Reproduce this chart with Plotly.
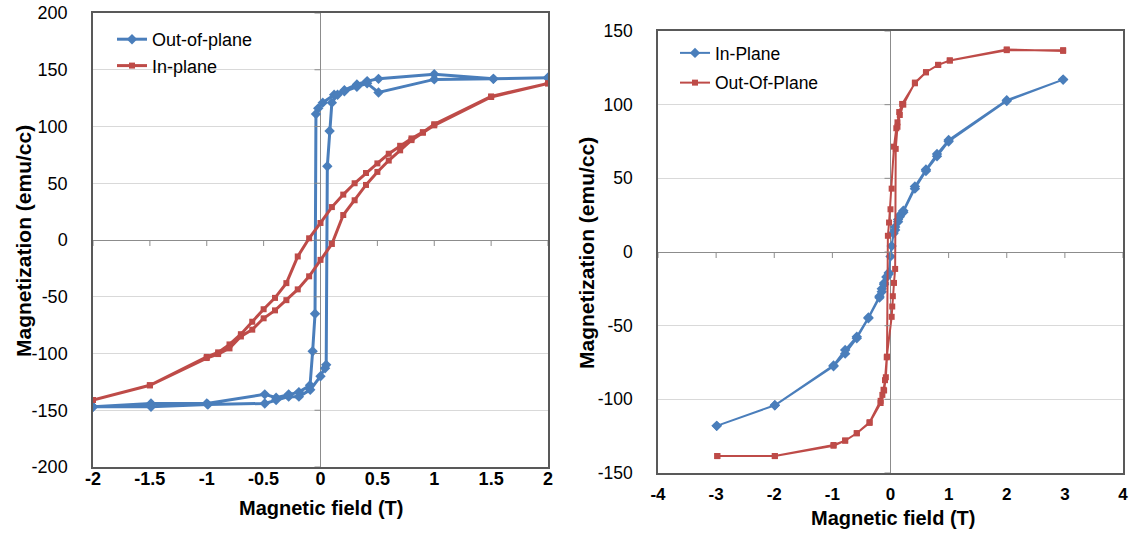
import plotly.graph_objects as go

# ---------------- Left panel: hysteresis loops, field in T ----------------
# Out-of-plane loop: descending branch (+2 T -> -2 T), then ascending branch
oop_desc_h = [2.0, 1.52, 1.0, 0.51, 0.41, 0.32, 0.21, 0.12, 0.02, -0.02, -0.04,
              -0.048, -0.069, -0.092, -0.19, -0.28, -0.39, -0.49, -1.0, -1.49, -2.0]
oop_desc_m = [143, 142, 146, 142, 140, 137, 132, 128, 121, 116, 111,
              -65, -98, -128, -134, -136, -139, -136, -144, -144, -147]
oop_asc_h = [-2.0, -1.49, -0.99, -0.49, -0.39, -0.28, -0.19, -0.09, 0.0, 0.04, 0.05,
             0.06, 0.08, 0.10, 0.15, 0.21, 0.32, 0.41, 0.51, 1.0, 1.52, 2.0]
oop_asc_m = [-147, -147, -145, -144, -141, -138, -138, -132, -120, -113, -110,
             65, 96, 121, 128, 131, 135, 138, 130, 141.5, 142, 143]

# In-plane loop
ip_desc_h = [2.0, 1.5, 1.0, 0.9, 0.8, 0.7, 0.6, 0.5, 0.4, 0.3, 0.2, 0.1, 0.0,
             -0.1, -0.2, -0.3, -0.4, -0.5, -0.6, -0.7, -0.8, -0.9, -1.0, -1.5, -2.0]
ip_desc_m = [138, 126.5, 102, 95, 89.5, 83, 76, 67.5, 59, 50, 40, 29, 15,
             1.5, -14.5, -38, -51, -61, -72, -83, -92, -99, -103, -128, -141]
ip_asc_h = [-2.0, -1.5, -1.0, -0.9, -0.8, -0.7, -0.6, -0.5, -0.4, -0.3, -0.2, -0.1, 0.0,
            0.1, 0.2, 0.3, 0.4, 0.5, 0.6, 0.7, 0.8, 0.9, 1.0, 1.5, 2.0]
ip_asc_m = [-141, -128, -104, -100.5, -95.5, -85, -79, -69, -62, -53, -43.5, -32, -17.5,
            -3.5, 22, 35, 48.5, 60, 70, 79, 88, 94.5, 101, 126, 138]

# ---------------- Right panel ----------------
r_ip_desc_h = [2.97, 2.0, 1.0, 0.8, 0.61, 0.42, 0.22, 0.16, 0.13, 0.08, 0.05, 0.0,
               -0.03, -0.07, -0.11, -0.15, -0.19, -0.38, -0.58, -0.78, -0.98, -1.99, -2.99]
r_ip_desc_m = [117, 103, 76, 66.5, 56, 44.5, 28, 24, 20.5, 15, 12.5, -3,
               -14, -17, -21, -25, -30, -44.5, -57.5, -66.5, -77, -104, -118]
r_ip_asc_h = [-2.99, -1.99, -0.98, -0.78, -0.58, -0.38, -0.19, -0.15, -0.11, -0.065,
              -0.03, 0.02, 0.05, 0.08, 0.13, 0.16, 0.22, 0.42, 0.61, 0.8, 1.0, 2.0, 2.97]
r_ip_asc_m = [-118, -104, -77.5, -69, -58.5, -45, -31, -27, -22, -17,
              -15, 4, 13, 17, 22, 25, 27, 43, 55, 65, 75, 102.5, 117]

r_oop_desc_h = [2.97, 2.0, 1.02, 0.82, 0.61, 0.42, 0.2, 0.15, 0.12, 0.1, 0.06, 0.02, 0.0,
                -0.025, -0.045, -0.06, -0.08, -0.11, -0.17, -0.36, -0.58, -0.78, -0.98,
                -1.99, -2.98]
r_oop_desc_m = [137, 137, 130, 127, 122, 114.5, 100.5, 95, 88, 84, 71.5, 43, 29,
                20, 11, -71, -85, -94, -102.5, -116, -123, -128, -131.5,
                -138.5, -138.5]
r_oop_asc_h = [-2.98, -1.99, -0.98, -0.78, -0.58, -0.36, -0.17, -0.14, -0.12, -0.095,
               -0.065, 0.02, 0.03, 0.04, 0.06, 0.08, 0.09, 0.12, 0.16, 0.22, 0.42,
               0.61, 0.82, 1.02, 2.0, 2.97]
r_oop_asc_m = [-138.5, -138.5, -131, -128, -123, -115.5, -101, -97, -93.5, -87,
               -71.5, -44, -37, -30, -21, -11.5, 70, 85, 93, 100, 115,
               122, 127, 130, 137.5, 136.5]

# Axis ticks
left_xticks = [-2, -1.5, -1, -0.5, 0, 0.5, 1, 1.5, 2]
left_yticks = [-200, -150, -100, -50, 0, 50, 100, 150, 200]
right_xticks = [-4, -3, -2, -1, 0, 1, 2, 3, 4]
right_yticks = [-150, -100, -50, 0, 50, 100, 150]

BLUE = "#4A7EBB"
RED = "#BE4B48"
FONT = "Liberation Sans, Arial, sans-serif"
W, H = 1139, 533


def labels(vals):
    # plain hyphen-minus for negative numbers
    return [f"{v:g}" for v in vals]


fig = go.Figure()

fig.add_trace(go.Scatter(
    x=oop_desc_h + oop_asc_h, y=oop_desc_m + oop_asc_m, name="Out-of-plane",
    mode="lines+markers", line=dict(color=BLUE, width=3),
    marker=dict(symbol="diamond", size=8, color=BLUE),
    xaxis="x", yaxis="y", legend="legend"))
fig.add_trace(go.Scatter(
    x=ip_desc_h + ip_asc_h, y=ip_desc_m + ip_asc_m, name="In-plane",
    mode="lines+markers", line=dict(color=RED, width=3),
    marker=dict(symbol="square", size=6, color=RED),
    xaxis="x", yaxis="y", legend="legend"))

fig.add_trace(go.Scatter(
    x=r_ip_desc_h + r_ip_asc_h, y=r_ip_desc_m + r_ip_asc_m, name="In-Plane",
    mode="lines+markers", line=dict(color=BLUE, width=2),
    marker=dict(symbol="diamond", size=8, color=BLUE),
    xaxis="x2", yaxis="y2", legend="legend2", legendgroup="r1"))
fig.add_trace(go.Scatter(
    x=r_oop_desc_h + r_oop_asc_h, y=r_oop_desc_m + r_oop_asc_m, name="Out-Of-Plane",
    mode="lines+markers", line=dict(color=RED, width=2),
    marker=dict(symbol="square", size=6, color=RED),
    xaxis="x2", yaxis="y2", legend="legend2", legendgroup="r2"))


def px_x(p):
    return p / W


def px_y(p):
    return 1 - p / H


# Plot areas in pixels: left (93..548, 13..467), right (658..1123, 31..473)
common_x = dict(showgrid=False, zeroline=True, zerolinecolor="#8C8C8C", zerolinewidth=1,
                showline=True, linecolor="#595959", linewidth=1.5, mirror=True,
                automargin=False, ticks="",
                tickfont=dict(family=FONT, size=18, color="black", weight="bold"))
common_y = dict(showgrid=True, gridcolor="#D9D9D9", gridwidth=1,
                zeroline=True, zerolinecolor="#8C8C8C", zerolinewidth=1,
                showline=True, linecolor="#595959", linewidth=1.5, mirror=True,
                automargin=False, ticks="",
                tickfont=dict(family=FONT, size=18, color="black"))

fig.update_layout(
    width=W, height=H, margin=dict(l=0, r=0, t=0, b=0, autoexpand=False),
    paper_bgcolor="white", plot_bgcolor="white",
    font=dict(family=FONT, color="black"),
    xaxis=dict(common_x, domain=[px_x(93), px_x(548)], range=[-2, 2],
               tickvals=left_xticks, ticktext=labels(left_xticks),
               anchor="y", ticklabelstandoff=-5),
    yaxis=dict(common_y, domain=[px_y(467), px_y(13)], range=[-200, 200],
               tickvals=left_yticks, ticktext=labels(left_yticks),
               anchor="x", ticklabelstandoff=20),
    xaxis2=dict(common_x, domain=[px_x(658), px_x(1123)], range=[-4, 4],
                tickvals=right_xticks, ticktext=labels(right_xticks),
                anchor="y2", ticklabelstandoff=5,
                tickfont=dict(family=FONT, size=17, color="black", weight="bold")),
    yaxis2=dict(common_y, domain=[px_y(473), px_y(31)], range=[-150, 150],
                tickvals=right_yticks, ticktext=labels(right_yticks),
                anchor="x2", ticklabelstandoff=20,
                tickfont=dict(family=FONT, size=17.5, color="black")),
    legend=dict(x=px_x(112), y=px_y(21), xanchor="left", yanchor="top",
                bgcolor="rgba(0,0,0,0)", font=dict(family=FONT, size=18),
                itemwidth=30, tracegroupgap=0),
    legend2=dict(x=px_x(675), y=px_y(35), xanchor="left", yanchor="top",
                 bgcolor="rgba(0,0,0,0)", font=dict(family=FONT, size=17.5),
                 itemwidth=30, traceorder="grouped", tracegroupgap=4),
    showlegend=True,
)

# Tick marks sit on the zero lines (axes cross at the origin)
shapes = []
for t in left_xticks:
    shapes.append(dict(type="line", xref="x", yref="y", x0=t, x1=t,
                       ysizemode="pixel", yanchor=0, y0=0, y1=-6,
                       line=dict(color="#8C8C8C", width=1)))
for t in left_yticks:
    shapes.append(dict(type="line", xref="x", yref="y", y0=t, y1=t,
                       xsizemode="pixel", xanchor=0, x0=-6, x1=0,
                       line=dict(color="#8C8C8C", width=1)))
for t in right_xticks:
    shapes.append(dict(type="line", xref="x2", yref="y2", x0=t, x1=t,
                       ysizemode="pixel", yanchor=0, y0=0, y1=-6,
                       line=dict(color="#8C8C8C", width=1)))
for t in right_yticks:
    shapes.append(dict(type="line", xref="x2", yref="y2", y0=t, y1=t,
                       xsizemode="pixel", xanchor=0, x0=-6, x1=0,
                       line=dict(color="#8C8C8C", width=1)))
fig.update_layout(shapes=shapes)

# Axis titles
title_font = dict(family=FONT, size=20, color="black", weight="bold")
for text, x, y, ang, size in [("Magnetic field (T)", 321, 508, 0, 20),
                              ("Magnetic field (T)", 893, 518, 0, 20),
                              ("Magnetization (emu/cc)", 23, 241, -90, 21),
                              ("Magnetization (emu/cc)", 586, 253, -90, 21)]:
    fig.add_annotation(text=text, xref="paper", yref="paper",
                       x=px_x(x), y=px_y(y), xanchor="center", yanchor="middle",
                       showarrow=False, textangle=ang,
                       font=dict(title_font, size=size))

fig.write_html("out.html")
